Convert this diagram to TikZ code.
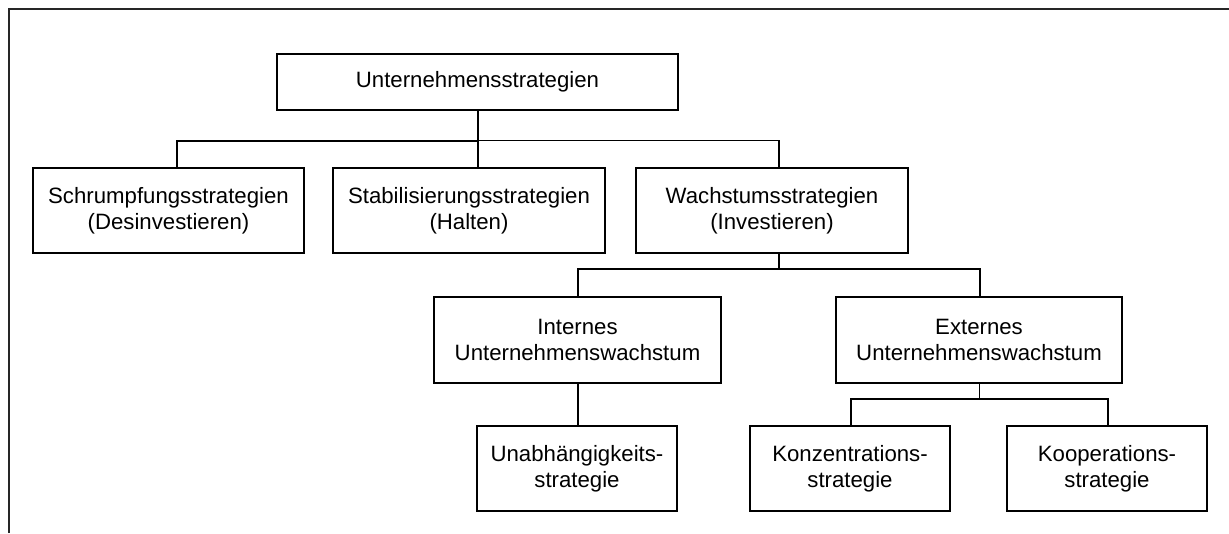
\documentclass[tikz,border=0pt]{standalone}
\usepackage{fontspec}
\setmainfont{Liberation Sans}
\begin{document}
\begin{tikzpicture}[x=1pt,y=-1pt,
  box/.style={draw, line width=2.1pt, inner sep=0pt, outer sep=0pt, align=center,
    font=\fontsize{22.2}{25.8}\selectfont},
  conn/.style={line width=2pt},
  thin/.style={line width=1.1pt},
  frame/.style={line width=1.8pt, draw=black!85}]
\useasboundingbox (0,0) rectangle (1229,533);
\draw[frame] (9,533) -- (9,9.3) -- (1229,9.3);

\node[box, minimum width=401pt, minimum height=56pt] (top) at (477.5,82) {Unternehmensstrategien};
\node[box, minimum width=271pt, minimum height=85pt] (s1) at (168.5,210.5) {Schrumpfungsstrategien\\(Desinvestieren)};
\node[box, minimum width=272pt, minimum height=85pt] (s2) at (469,210.5) {Stabilisierungsstrategien\\(Halten)};
\node[box, minimum width=272pt, minimum height=85pt] (s3) at (772,210.5) {Wachstumsstrategien\\(Investieren)};
\node[box, minimum width=287pt, minimum height=86pt] (int) at (577.5,340) {Internes\\Unternehmenswachstum};
\node[box, minimum width=286pt, minimum height=86pt] (ext) at (979,340) {Externes\\Unternehmenswachstum};
\node[box, minimum width=200pt, minimum height=85pt] (una) at (577,468.5) {Unabhängigkeits-\\strategie};
\node[box, minimum width=200pt, minimum height=85pt] (kon) at (850,468.5) {Konzentrations-\\strategie};
\node[box, minimum width=200pt, minimum height=85pt] (koo) at (1107,468.5) {Kooperations-\\strategie};

\coordinate (j1) at (477.7,140.7);
\coordinate (j2) at (779,269.3);
\coordinate (j3) at (979.3,398.5);

% level 1 -> level 2
\draw[conn] (top.south -| j1) -- (j1 |- s2.north);
\draw[conn] ([xshift=8.5pt]s1.north) |- (j1);
\draw[thin] (j1) -| ([xshift=7pt]s3.north);
% level 2 -> level 3
\draw[thin] ([xshift=7pt]s3.south) -- (j2);
\draw[conn] ([xshift=0.5pt]int.north) |- (j2) -| ([xshift=1pt]ext.north);
% level 3 -> level 4
\draw[conn] ([xshift=0.5pt]int.south) -- ([xshift=1pt]una.north);
\draw[thin] (ext.south -| j3) -- (j3);
\draw[conn] ([xshift=1pt]kon.north) |- (j3) -| ([xshift=1pt]koo.north);
\end{tikzpicture}
\end{document}
